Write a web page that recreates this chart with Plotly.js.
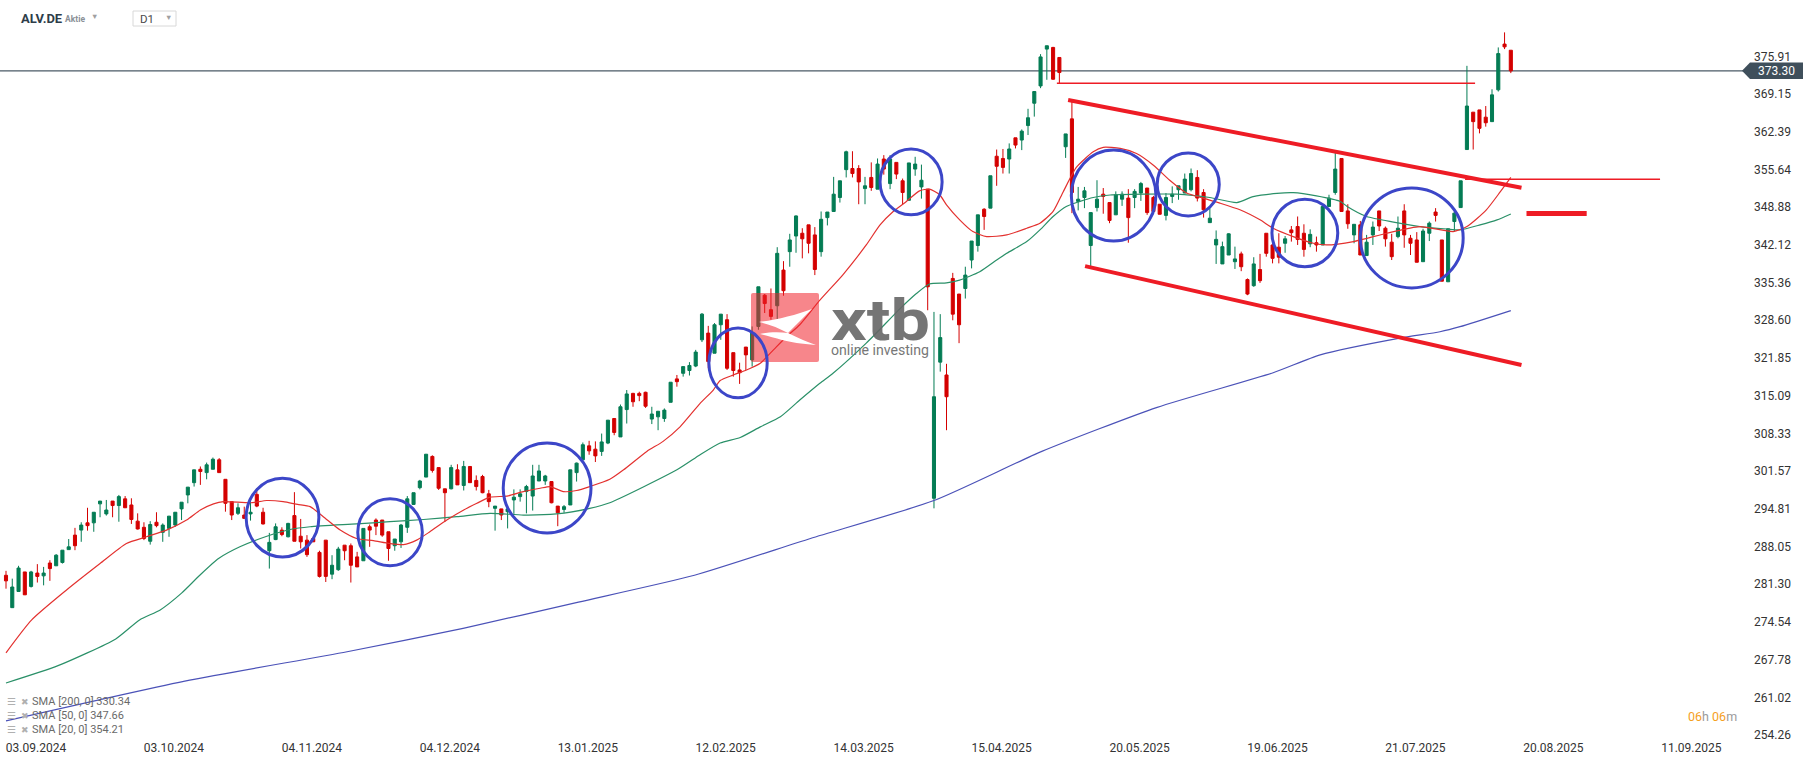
<!DOCTYPE html>
<html><head><meta charset="utf-8">
<script src="https://cdn.plot.ly/plotly-3.0.1.min.js"></script>
<style>html,body{margin:0;padding:0;background:#fff;}#chart{width:1815px;height:761px;}</style>
</head><body><div id="chart"></div>
<script>
// ---- OHLC data (one candle per trading day, index 0 = 03.09.2024) ----
const openP = [282.9,277.1,280.0,283.5,280.9,283.3,282.8,285.1,284.6,285.2,287.5,290.1,291.0,292.3,292.3,295.7,293.9,296.2,295.4,296.6,
295.5,292.6,291.5,289.0,292.4,290.6,291.3,291.9,294.8,297.3,299.5,301.9,301.3,301.9,303.6,300.1,296.1,294.0,293.7,293.9,
297.4,294.2,287.3,289.3,291.0,289.8,293.6,289.9,289.2,289.5,287.0,289.2,283.1,283.9,288.3,288.2,286.2,285.5,291.6,292.8,
292.8,290.7,288.2,288.9,291.5,295.6,298.6,300.5,304.2,302.2,298.4,298.4,301.8,299.0,302.4,299.9,300.6,297.5,294.9,294.8,
294.3,296.4,297.0,297.9,297.1,299.8,299.8,299.7,295.3,294.7,295.5,301.3,303.6,306.1,305.5,305.1,306.6,311.0,307.7,312.6,
315.5,315.5,315.7,310.9,311.3,311.0,313.9,318.1,319.1,319.6,320.4,325.1,326.3,322.7,327.8,328.7,322.8,319.7,323.8,321.5,
327.5,333.1,330.5,331.2,337.6,340.9,343.7,344.2,345.7,343.9,340.9,347.0,348.1,350.6,355.6,355.8,355.8,352.2,354.2,352.1,
357.5,353.1,356.9,353.6,350.1,355.7,352.5,352.1,296.7,321.1,318.8,336.1,333.3,334.3,339.4,342.0,348.5,348.7,358.0,357.6,
357.5,361.3,360.9,363.5,367.5,370.6,377.2,377.5,375.7,359.7,364.7,349.9,350.6,342.0,348.8,351.2,349.7,347.5,350.3,350.5,
350.6,351.4,352.3,350.6,349.4,347.4,350.8,352.0,351.4,352.0,354.2,351.5,346.1,342.1,338.7,340.3,339.1,340.5,335.9,334.8,
337.7,344.2,342.1,341.7,342.4,344.8,345.4,344.2,342.3,342.5,342.1,349.0,351.5,357.6,348.2,343.9,345.7,340.2,343.9,348.2,
345.1,342.6,343.6,348.2,343.3,343.0,339.1,344.2,348.0,343.0,335.5,346.3,348.8,359.2,365.9,366.3,365.0,364.2,369.9,378.1,
377.0];
const highP = [283.7,282.3,284.6,283.5,283.7,284.9,284.4,285.6,286.7,287.4,289.4,291.4,292.4,295.0,294.2,296.2,296.4,296.2,297.3,297.1,
296.7,294.0,292.4,292.6,294.2,292.2,293.5,294.2,296.0,298.7,301.8,302.4,303.1,304.0,303.9,300.1,296.1,295.8,295.2,296.3,
298.5,295.0,290.5,292.2,291.5,292.3,297.8,293.0,290.1,289.5,287.3,289.2,286.5,288.0,288.3,288.6,287.1,291.3,292.0,293.1,
292.8,290.7,289.4,292.1,297.1,297.7,300.0,304.6,304.4,302.2,298.4,302.7,302.8,303.4,302.4,300.8,300.9,298.2,295.3,294.8,
294.8,298.3,298.3,299.1,302.7,302.7,300.9,299.7,295.3,295.5,301.8,303.1,306.7,307.0,306.9,308.3,310.7,311.0,313.5,316.1,
315.6,315.8,315.8,313.1,312.3,312.8,317.5,318.8,320.3,321.1,323.3,329.9,327.6,328.1,329.7,329.7,322.8,321.0,323.8,327.5,
334.6,333.3,334.3,341.7,339.2,344.1,347.4,345.1,345.7,345.3,348.1,348.0,354.3,353.6,359.0,358.9,356.4,354.3,356.9,357.6,
358.2,358.2,356.9,354.0,356.8,357.9,356.5,352.1,330.1,329.7,320.8,337.1,333.3,338.2,342.8,347.5,348.7,354.5,359.2,359.3,
360.3,361.3,362.8,366.5,369.6,376.3,377.8,377.6,375.7,362.0,368.1,352.5,352.5,347.9,353.7,352.3,349.7,351.7,351.7,352.1,
352.1,353.4,352.3,350.9,349.4,351.4,352.6,352.7,354.9,355.8,355.5,352.1,348.7,344.7,342.7,344.2,341.8,340.9,336.1,339.9,
340.5,344.2,343.6,344.2,343.7,345.5,347.2,345.8,344.9,343.6,349.0,351.1,358.7,357.6,349.4,345.8,346.4,343.9,346.3,348.2,
345.4,344.1,347.2,349.4,343.9,344.4,345.0,346.3,348.7,343.0,345.0,348.1,353.6,374.2,365.9,366.3,367.0,370.0,377.5,380.2,
377.0];
const lowP = [280.5,277.1,280.0,279.4,280.7,281.6,281.1,281.9,284.6,285.0,287.5,287.4,288.9,290.9,290.7,293.3,293.6,293.3,292.5,295.0,
292.1,291.1,289.2,288.4,291.5,288.9,289.8,291.6,292.8,295.8,298.8,299.1,300.1,301.9,301.3,294.3,292.8,293.7,293.1,292.7,
295.1,292.0,284.1,289.2,289.9,289.7,289.0,287.7,286.2,288.9,282.5,281.7,282.2,283.7,285.6,281.6,284.4,285.5,288.0,290.1,
289.8,285.5,287.3,287.8,290.5,295.5,298.3,300.5,301.3,298.2,292.5,298.3,299.1,298.1,299.5,298.1,297.6,295.1,290.9,292.8,
291.3,293.9,296.1,294.0,294.5,299.8,299.1,295.8,291.7,294.1,295.5,299.7,303.6,304.5,303.2,304.3,306.4,308.0,307.7,310.1,
313.1,314.1,312.9,310.0,308.9,310.4,313.9,316.7,318.5,318.7,320.2,324.7,320.0,322.7,325.1,319.7,318.5,317.2,319.7,320.3,
326.9,329.9,328.7,328.2,333.0,338.2,340.7,339.7,340.6,336.7,340.0,345.6,348.1,349.7,354.2,354.2,349.4,349.4,351.8,352.1,
354.7,352.1,353.9,349.4,350.1,354.5,350.4,330.4,294.9,319.4,308.9,328.6,324.5,332.5,337.9,340.9,344.8,348.7,352.7,354.9,
354.9,359.4,359.1,361.8,365.1,370.2,371.7,371.7,371.1,357.7,347.8,348.3,348.7,338.3,348.1,347.7,346.0,347.5,349.1,342.5,
348.7,350.0,347.5,347.8,347.6,346.5,349.6,350.2,351.4,351.7,349.9,347.0,346.1,338.7,338.7,340.3,337.8,337.4,333.1,334.6,
335.3,340.0,338.8,338.8,340.7,342.7,342.1,340.0,341.7,340.9,342.1,349.0,351.1,348.1,345.0,342.4,340.3,340.2,342.1,344.6,
341.8,339.4,343.3,341.6,340.3,339.0,339.1,342.8,346.3,335.6,335.5,344.5,348.8,359.2,359.2,362.1,363.3,364.2,369.6,377.2,
372.9];
const closeP = [281.9,280.8,284.2,279.4,283.5,282.7,283.3,284.1,286.5,287.4,288.0,288.2,291.9,291.8,294.2,296.2,294.6,295.4,297.0,295.0,
292.9,291.2,289.5,292.0,291.8,291.9,293.5,294.2,296.0,298.7,301.8,301.5,302.7,303.7,301.3,295.8,293.7,295.0,293.1,294.2,
295.3,292.1,288.8,291.6,290.2,292.2,289.0,288.9,286.6,288.9,282.7,282.7,284.7,287.6,287.3,284.7,284.4,291.3,291.0,291.7,
290.1,287.7,289.4,291.9,296.6,297.7,299.8,304.6,301.7,298.5,297.7,302.2,299.1,302.4,299.5,298.8,297.7,296.1,295.3,293.7,
294.8,296.9,297.5,298.8,300.7,301.6,300.7,295.9,294.1,295.2,301.8,303.0,306.3,305.2,304.3,306.8,310.7,308.5,313.1,315.4,
314.0,315.1,313.2,311.8,312.3,312.5,317.5,317.6,320.3,320.5,322.9,329.7,321.2,327.8,329.7,320.0,319.6,319.2,322.4,326.3,
334.6,331.6,329.3,340.6,333.9,343.0,347.3,343.2,342.4,337.7,346.7,348.0,351.2,353.6,358.8,354.9,353.4,352.7,352.4,356.6,
355.7,357.5,354.8,351.5,356.8,356.6,353.7,334.6,314.9,325.5,314.9,329.7,327.8,336.7,342.8,347.5,347.2,354.5,356.2,356.0,
359.3,360.0,362.5,364.9,369.6,375.8,377.8,371.8,373.0,362.0,351.5,350.3,351.8,347.9,350.3,350.8,346.5,351.1,351.2,347.0,
351.7,353.1,347.9,348.1,347.6,350.6,351.2,352.7,353.9,354.9,350.5,348.4,346.9,343.1,341.8,344.1,339.6,338.2,333.3,338.7,
335.7,340.6,339.7,339.9,343.2,344.3,343.1,341.3,344.0,342.1,349.0,350.5,355.7,348.1,345.9,345.8,340.3,342.6,345.3,345.5,
343.2,340.0,345.1,343.9,342.4,339.0,344.6,346.0,347.4,335.6,345.0,347.8,353.6,367.0,364.2,363.0,364.0,369.0,376.4,377.6,
373.3];

// ---- moving averages: [bar index, value] ----
const sma20Pts = [[0,269.0],[4.1,274.9],[9.7,280.3],[15.0,285.0],[19.2,288.6],[22.4,289.8],[25.6,291.0],[28.8,292.8],[31.0,294.6],[33.1,295.7],[34.7,296.1],[39.0,295.9],[41.6,296.3],[44.2,296.1],[46.5,295.6],[48.5,295.2],[50.6,293.4],[53.3,291.0],[55.9,289.5],[58.6,289.1],[61.2,288.6],[63.4,288.4],[65.5,289.2],[67.6,290.7],[70.3,292.8],[73.0,294.6],[75.1,295.8],[77.2,296.9],[79.9,297.1],[82.5,297.9],[85.2,298.5],[86.8,298.8],[88.9,297.9],[91.0,298.1],[93.1,298.8],[96.3,300.1],[98.5,301.8],[102.2,305.1],[104.8,306.9],[107.5,309.5],[110.7,313.7],[112.8,316.1],[113.9,317.8],[116.0,318.8],[118.1,319.7],[120.3,320.9],[122.4,323.3],[124.5,325.7],[126.6,327.8],[129.8,332.2],[133.5,336.8],[137.2,342.1],[139.4,345.7],[141.5,348.1],[143.6,349.9],[145.7,351.8],[147.3,352.1],[148.9,351.1],[150.0,349.3],[152.1,346.6],[154.2,344.5],[156.4,343.6],[159.6,343.9],[162.8,345.1],[164.9,346.0],[167.0,348.1],[168.6,351.6],[170.7,356.0],[173.4,358.8],[175.0,359.6],[177.7,359.4],[180.3,358.5],[183.0,356.4],[185.6,353.7],[188.3,351.4],[190.9,350.5],[193.6,349.6],[196.8,348.4],[200.0,346.6],[202.1,345.1],[205.3,343.6],[208.5,342.4],[210.6,342.1],[214.9,342.7],[220.2,344.2],[225.5,345.4],[230.8,344.5],[233.0,345.4],[236.1,348.4],[238.3,351.6],[240,354.21]];
const sma50Pts = [[0,263.6],[8.3,266.7],[17.5,271.5],[21.3,274.9],[24.6,276.7],[28.0,279.7],[30.9,282.9],[33.9,285.9],[37.3,288.0],[41.6,289.9],[45.3,291.1],[48.5,291.6],[55.9,292.1],[61.2,292.5],[66.6,292.9],[71.9,293.4],[77.2,294.0],[82.5,293.7],[87.8,293.9],[93.1,294.9],[96.3,295.9],[107.0,301.8],[110.7,304.5],[113.9,306.6],[117.1,307.6],[120.3,309.5],[123.5,311.3],[126.6,314.3],[129.8,317.3],[131.9,319.1],[137.2,324.5],[142.6,330.7],[145.2,333.4],[147.3,335.1],[150.0,335.3],[152.1,335.8],[155.3,337.3],[158.0,339.4],[159.6,340.6],[162.8,342.7],[164.9,344.8],[167.0,347.2],[169.1,349.0],[171.3,349.9],[173.4,350.6],[176.1,351.05],[181.4,351.2],[186.7,351.2],[192.0,350.6],[196.3,349.7],[198.9,350.75],[202.7,351.35],[205.3,351.47],[209.0,350.9],[212.8,349.9],[213.9,349.0],[217.0,347.2],[221.3,346.2],[225.5,345.4],[229.8,344.96],[231.9,344.8],[235.1,345.7],[237.8,346.6],[240,347.66]];
const sma200Pts = [[0,256.8],[29.3,264.1],[54.4,269.2],[72.9,273.4],[91.3,278.1],[109.8,282.9],[128.3,289.5],[148,296.3],[165.2,305.1],[183.6,313.0],[202.1,319.2],[209.6,322.4],[222.3,325.4],[228.7,326.55],[231.9,327.45],[240,330.34]];

// ---- axis ticks ----
const xTickIdx = [0,22,44,66,88,110,132,154,176,198,220,242,264];
const xTickLabels = ["03.09.2024","03.10.2024","04.11.2024","04.12.2024","13.01.2025","12.02.2025","14.03.2025","15.04.2025","20.05.2025","19.06.2025","21.07.2025","20.08.2025","11.09.2025"];
const yTickLabels = ["375.91","369.15","362.39","355.64","348.88","342.12","335.36","328.60","321.85","315.09","308.33","301.57","294.81","288.05","281.30","274.54","267.78","261.02","254.26"];
const lastPrice = 373.30;
const legendRows = [["SMA [200, 0] 330.34"],["SMA [50, 0] 347.66"],["SMA [20, 0] 354.21"]];

// ---- drawing annotations in (bar index, price) ----
const circles = [[38.3,49.9,286.2,300.3],[56.1,66.4,284.6,296.6],[79.3,93.3,290.5,306.6],[112.1,121.4,314.7,327.2],[139.4,149.3,347.5,359.3],[169.9,183.4,342.8,359.1],[183.6,193.5,347.3,358.6],[201.9,212.4,338.2,350.3],[216.0,232.4,334.4,352.3]];
const channelUpper = [[169.4,368.07],[241.7,352.36]];
const channelLower = [[172.1,338.3],[241.7,320.6]];
const topLine = [[167.6,234.3],371.07];
const resistLine = [[232.7,263.8],353.86];
const targetLine = [[242.5,252.1],347.76];

const idx = openP.map((_, i) => i);
const W = 1743, H = 738;
const px = x => x / W, py = y => 1 - y / H;

const traces = [
  {type:'scatter', mode:'lines', x:sma200Pts.map(p=>p[0]), y:sma200Pts.map(p=>p[1]), line:{color:'#4b52b8', width:1.2, shape:'spline', smoothing:0.6}, hoverinfo:'skip'},
  {type:'scatter', mode:'lines', x:sma50Pts.map(p=>p[0]), y:sma50Pts.map(p=>p[1]), line:{color:'#2a9068', width:1.2, shape:'spline', smoothing:0.6}, hoverinfo:'skip'},
  {type:'scatter', mode:'lines', x:sma20Pts.map(p=>p[0]), y:sma20Pts.map(p=>p[1]), line:{color:'#e3312f', width:1.2, shape:'spline', smoothing:0.6}, hoverinfo:'skip'},
  {type:'candlestick', x:idx, open:openP, high:highP, low:lowP, close:closeP, whiskerwidth:0,
   increasing:{line:{color:'#047c54', width:1}, fillcolor:'#047c54'},
   decreasing:{line:{color:'#d40000', width:1}, fillcolor:'#d40000'}, hoverinfo:'skip'}
];

const red = '#ee1c25', blue = '#3c46c8';
const shapes = [];
shapes.push({type:'line', xref:'paper', yref:'y', x0:0, x1:1, y0:lastPrice, y1:lastPrice, line:{color:'#4a5a66', width:1.3}, layer:'below'});
shapes.push({type:'line', xref:'x', yref:'y', x0:topLine[0][0], x1:topLine[0][1], y0:topLine[1], y1:topLine[1], line:{color:red, width:1.5}});
shapes.push({type:'line', xref:'x', yref:'y', x0:resistLine[0][0], x1:resistLine[0][1], y0:resistLine[1], y1:resistLine[1], line:{color:red, width:1.5}});
shapes.push({type:'line', xref:'x', yref:'y', x0:targetLine[0][0], x1:targetLine[0][1], y0:targetLine[1], y1:targetLine[1], line:{color:red, width:5}});
shapes.push({type:'line', xref:'x', yref:'y', x0:channelUpper[0][0], y0:channelUpper[0][1], x1:channelUpper[1][0], y1:channelUpper[1][1], line:{color:red, width:4}});
shapes.push({type:'line', xref:'x', yref:'y', x0:channelLower[0][0], y0:channelLower[0][1], x1:channelLower[1][0], y1:channelLower[1][1], line:{color:red, width:4}});
circles.forEach(c => shapes.push({type:'circle', xref:'x', yref:'y', x0:c[0], x1:c[1], y0:c[2], y1:c[3], line:{color:blue, width:3}}));
// price tag on the right axis
const tagH = 1.48;
shapes.push({type:'path', xref:'paper', yref:'y',
  path:`M ${px(1742)},${lastPrice} L ${px(1750)},${lastPrice+tagH} L ${px(1803)},${lastPrice+tagH} L ${px(1803)},${lastPrice-tagH} L ${px(1750)},${lastPrice-tagH} Z`,
  fillcolor:'#3f4f5b', line:{width:0}});
// D1 box
shapes.push({type:'rect', xref:'paper', yref:'paper', x0:px(133), x1:px(176), y0:py(26), y1:py(11), line:{color:'#d8d8d8', width:1}, fillcolor:'#fff'});

const annotations = [];
const ann = (x, y, text, size, color, extra) => annotations.push(Object.assign({xref:'paper', yref:'paper', x:px(x), y:py(y), text:text, showarrow:false, xanchor:'left', yanchor:'middle', font:{family:'Roboto, sans-serif', size:size, color:color}}, extra||{}));
ann(19, 18.5, '<b>ALV.DE</b>', 13, '#2e3d49');
ann(63, 19.5, '<b>Aktie</b>', 8.5, '#8a9096');
ann(89, 16.5, '▼', 7.5, '#a0a0a0');
ann(138, 19, 'D1', 11.5, '#4a4a4a');
ann(163, 17.5, '▼', 7.5, '#a0a0a0');
legendRows.forEach((r, k) => {
  const y = 701.5 + k * 14;
  ann(5, y, '☰', 10, '#b0b0b0');
  ann(19, y, '✖', 9, '#b0b0b0');
  ann(30, y, r[0], 11, '#6a6a6a');
});
ann(1686, 716, '<span style="color:#f5a01e">06</span><span style="color:#9a9a9a">h</span> <span style="color:#f5a01e">06</span><span style="color:#9a9a9a">m</span>', 12.5, '#f5a01e');
annotations.push({xref:'paper', yref:'y', x:px(1776), y:lastPrice, text:'373.30', showarrow:false, xanchor:'center', yanchor:'middle', font:{family:'Roboto, sans-serif', size:12, color:'#ffffff'}});

// xtb watermark
const logoSvg = `<svg xmlns="http://www.w3.org/2000/svg" width="181" height="69" viewBox="0 0 181 69">
<rect x="0" y="0" width="68" height="69" rx="2" fill="rgb(240,35,44)" fill-opacity="0.55"/>
<path d="M8,29 C25,27 45,22 61,16 C52,25 44,33 37,40 C28,35 18,31 8,29 Z" fill="#fff"/>
<path d="M9,41 C18,39 28,39 37,40 C47,45 56,49 65,52 C50,51 40,49 31,47 C24,45 16,43 9,41 Z" fill="#fff"/>
<text x="80" y="47" font-family="Roboto, Arial, sans-serif" font-weight="700" font-size="58" fill="#666" fill-opacity="0.9" textLength="99" lengthAdjust="spacingAndGlyphs">xtb</text>
<text x="80" y="62" font-family="Roboto, Arial, sans-serif" font-size="14.5" fill="#777" textLength="98" lengthAdjust="spacingAndGlyphs">online investing</text>
</svg>`;
const images = [{source:'data:image/svg+xml;charset=utf-8,' + encodeURIComponent(logoSvg), xref:'paper', yref:'paper', x:px(751), y:py(293), sizex:px(932)-px(751), sizey:69/H, sizing:'stretch', xanchor:'left', yanchor:'top', layer:'above'}];

const yTickVals = yTickLabels.map(Number);
const layout = {
  width:1815, height:761, margin:{l:0, r:72, t:0, b:23},
  paper_bgcolor:'#fff', plot_bgcolor:'#fff', showlegend:false,
  font:{family:'Roboto, sans-serif', size:12, color:'#333'},
  xaxis:{type:'linear', range:[-0.957, 277.03], showgrid:false, zeroline:false, showline:false, ticks:'',
    tickvals:xTickIdx, ticktext:xTickLabels, ticklabelshift:30, ticklabelstandoff:1,
    tickfont:{family:'Roboto, sans-serif', size:12, color:'#333'}, rangeslider:{visible:false}, fixedrange:true},
  yaxis:{side:'right', range:[253.74, 386.0], showgrid:false, zeroline:false, showline:false, ticks:'',
    tickvals:yTickVals, ticktext:yTickLabels, ticklabelstandoff:10,
    tickfont:{family:'Roboto, sans-serif', size:12, color:'#333'}, fixedrange:true},
  shapes:shapes, annotations:annotations, images:images, hovermode:false
};
Plotly.newPlot('chart', traces, layout, {staticPlot:true, displayModeBar:false});
</script></body></html>
